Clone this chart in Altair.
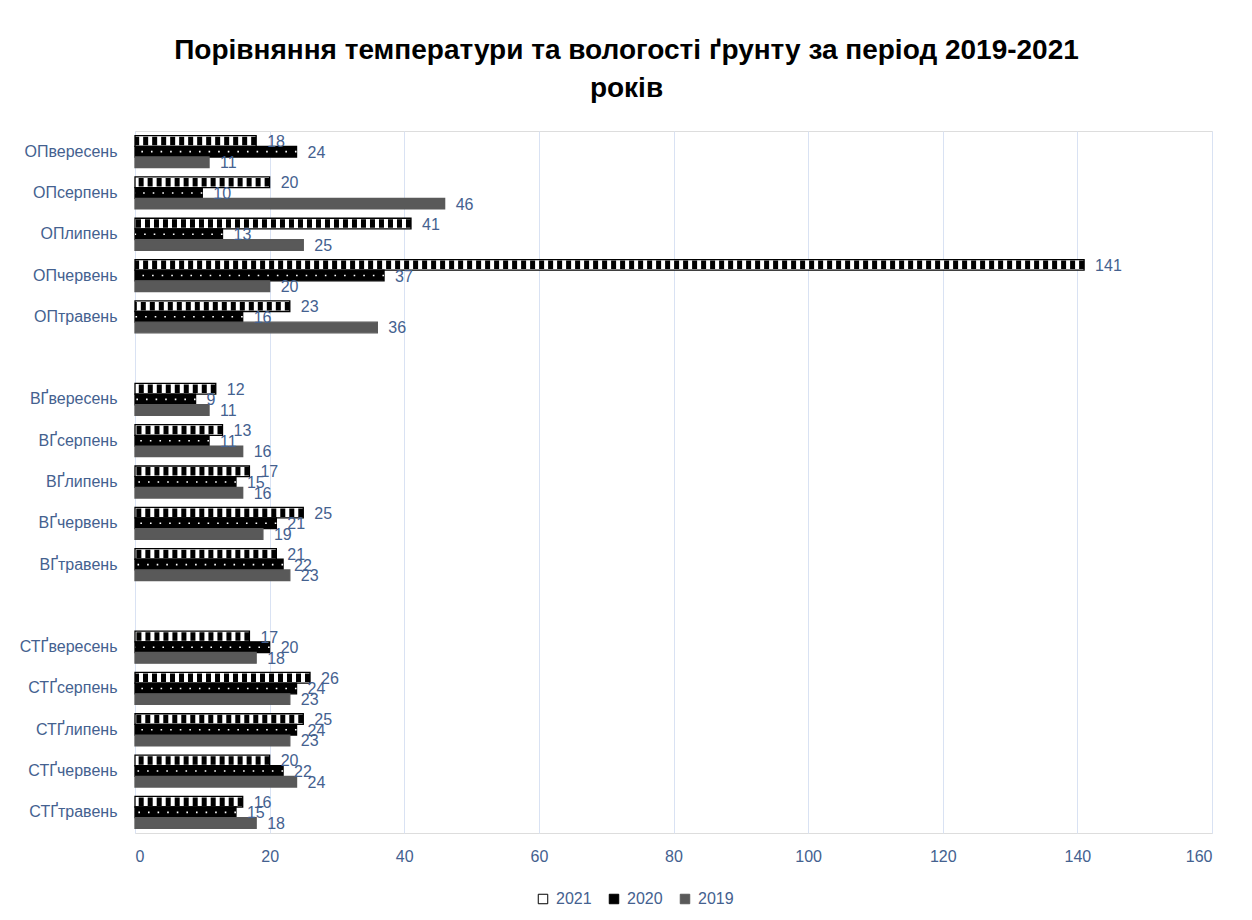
import altair as alt
import pandas as pd

# ---- data ----
groups = ["ОП", "ВҐ", "СТҐ"]
months = ["вересень", "серпень", "липень", "червень", "травень"]
years = ["2021", "2020", "2019"]

values = {
    "ОП": {
        "2021": [18, 20, 41, 141, 23],
        "2020": [24, 10, 13, 37, 16],
        "2019": [11, 46, 25, 20, 36],
    },
    "ВҐ": {
        "2021": [12, 13, 17, 25, 21],
        "2020": [9, 11, 15, 21, 22],
        "2019": [11, 16, 16, 19, 23],
    },
    "СТҐ": {
        "2021": [17, 26, 25, 20, 16],
        "2020": [20, 24, 24, 22, 15],
        "2019": [18, 23, 23, 24, 18],
    },
}

title_lines = ["Порівняння температури та вологості ґрунту за період 2019-2021", "років"]

# category order top->bottom, with blank rows between groups
cat_order = []
for gi, g in enumerate(groups):
    cat_order += [g + m for m in months]
    if gi < len(groups) - 1:
        cat_order.append(" " * (gi + 1))

rows = []
for g in groups:
    for y in years:
        for m, v in zip(months, values[g][y]):
            rows.append({"cat": g + m, "year": y, "value": v})
df = pd.DataFrame(rows)

TXT = "#44618F"
GRID = "#D9E2F3"
FONT = "Liberation Sans"

y_enc = alt.Y("cat:N", scale=alt.Scale(domain=cat_order, paddingInner=0.225, paddingOuter=0.1125),
              axis=alt.Axis(title=None, ticks=False, domain=False, labelFontSize=16,
                            labelColor=TXT, labelFont=FONT, labelPadding=18, grid=False))
yoff = alt.YOffset("year:N", scale=alt.Scale(domain=years, paddingInner=0, paddingOuter=0))
x_enc = alt.X("value:Q", scale=alt.Scale(domain=[0, 160]),
              axis=alt.Axis(title=None, values=list(range(0, 161, 20)), ticks=False, domain=False,
                            labelFontSize=16, labelColor=TXT, labelFont=FONT, labelPadding=15,
                            grid=True, gridColor=GRID, gridWidth=1))

base = alt.Chart(df)

bars = base.mark_bar(strokeWidth=1.3).encode(
    y=y_enc, yOffset=yoff, x=x_enc,
    color=alt.Color("year:N", scale=alt.Scale(domain=years, range=["#ffffff", "#000000", "#595959"]),
                    legend=alt.Legend(title=None, orient="none", direction="horizontal",
                                      legendX=400, legendY=760, symbolType="square", symbolSize=90,
                                      symbolStrokeColor="black", symbolStrokeWidth=1,
                                      labelFontSize=16, labelColor=TXT, labelFont=FONT,
                                      columnPadding=14, labelOffset=5)),
    stroke=alt.Stroke("year:N", scale=alt.Scale(domain=years, range=["#000000", "#000000", "#595959"]),
                      legend=None),
)

hatch = base.transform_filter(alt.datum.year == "2021").mark_rule(
    color="black", strokeWidth=8.5, strokeDash=[5, 4]
).encode(y=y_enc, yOffset=yoff, x=x_enc, x2=alt.datum(0))

dots = base.transform_filter(alt.datum.year == "2020").mark_rule(
    color="white", strokeWidth=1.6, strokeDash=[1.6, 8]
).encode(y=y_enc, yOffset=yoff, x=x_enc, x2=alt.datum(0))

labels = base.mark_text(align="left", baseline="middle", dx=11, dy=1, fontSize=16,
                        color=TXT, font=FONT).encode(
    y=y_enc, yOffset=yoff, x=x_enc, text="value:Q")

chart = alt.layer(bars, hatch, dots, labels).properties(
    width=1077, height=702,
    title=alt.TitleParams(
        text=title_lines,
        fontSize=28, font=FONT, fontWeight="bold", color="black",
        anchor="middle", dx=-47, offset=28, lineHeight=38),
    autosize="none",
    padding={"left": 127, "top": 123, "right": 32, "bottom": 80},
).configure_view(stroke=None).configure(background="white")

chart.save("out.html", embed_options={"renderer": "svg", "actions": False})
